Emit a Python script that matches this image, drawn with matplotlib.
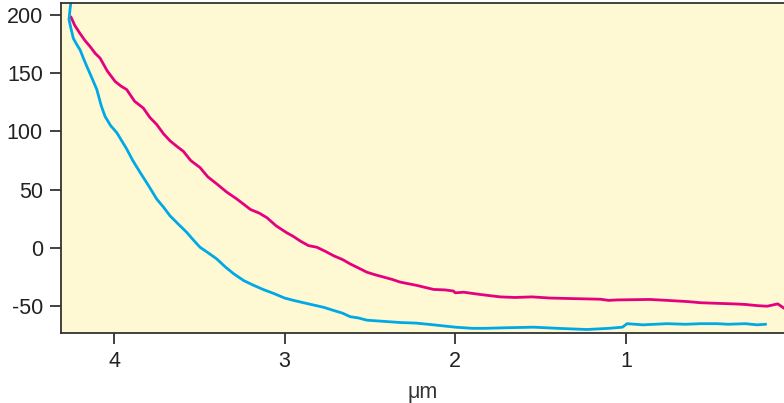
import matplotlib.pyplot as plt

plt.rcParams['font.family'] = ['Liberation Sans', 'DejaVu Sans']
plt.rcParams['axes.unicode_minus'] = False

# magenta trace (distance in um, signal)
mag_x = [4.252, 4.230, 4.199, 4.170, 4.141, 4.110, 4.082, 4.040, 3.994, 3.960,
         3.926, 3.880, 3.828, 3.790, 3.750, 3.710, 3.672, 3.630, 3.594, 3.550,
         3.496, 3.450, 3.398, 3.340, 3.280, 3.200, 3.150, 3.104, 3.050, 2.987,
         2.950, 2.909, 2.860, 2.811, 2.760, 2.714, 2.660, 2.616, 2.570, 2.518,
         2.470, 2.420, 2.370, 2.323, 2.230, 2.127, 2.060, 2.010, 2.000, 1.950,
         1.850, 1.736, 1.650, 1.550, 1.443, 1.300, 1.150, 1.100, 1.050, 0.954,
         0.860, 0.758, 0.700, 0.640, 0.563, 0.470, 0.367, 0.300, 0.230, 0.172,
         0.140, 0.110, 0.090, 0.075]
mag_y = [198, 191, 184, 178, 173, 167, 163, 152, 143, 139,
         136, 126, 120, 112, 106, 98, 92, 87, 83, 75,
         69, 61, 55, 48, 42, 33, 30, 26, 19, 13,
         10, 6, 2, 0.6, -3, -6.6, -10, -13.7, -17, -20.8,
         -23, -25, -27, -29.3, -32, -35.6, -36, -37, -38.5, -38,
         -40, -42, -42.5, -42, -43, -43.5, -44, -45, -44.6, -44.4,
         -44.2, -45, -45.5, -46, -47, -47.5, -48, -48.5, -49.5, -50,
         -49, -48, -50, -51.5]

# cyan trace
cyan_x = [4.252, 4.258, 4.264, 4.255, 4.239, 4.220, 4.199, 4.180, 4.160, 4.130,
          4.101, 4.075, 4.053, 4.020, 3.984, 3.955, 3.926, 3.890, 3.848, 3.800,
          3.750, 3.710, 3.672, 3.620, 3.574, 3.530, 3.496, 3.450, 3.398, 3.350,
          3.300, 3.240, 3.183, 3.120, 3.065, 3.000, 2.948, 2.890, 2.830, 2.770,
          2.714, 2.660, 2.616, 2.570, 2.518, 2.420, 2.323, 2.230, 2.127, 2.000,
          1.900, 1.833, 1.700, 1.540, 1.400, 1.228, 1.100, 1.020, 0.993, 0.900,
          0.758, 0.650, 0.560, 0.465, 0.400, 0.300, 0.230, 0.182]
cyan_y = [212, 205, 196, 190, 180, 175, 170, 163, 156, 146,
          136, 122, 113, 105, 99, 92, 85, 75, 65, 54,
          42, 35, 27.6, 20, 13.4, 6, 0.6, -4, -9.4, -16,
          -22, -28, -32, -36, -39, -43, -45, -47, -49, -51,
          -53.6, -56, -59, -60, -62, -63, -64, -64.5, -66, -68,
          -69, -69, -68.5, -68, -69, -70, -69, -68, -65, -66,
          -65, -65.5, -65, -65, -65.5, -65, -66, -65.5]

x_ticks = [4, 3, 2, 1]
y_ticks = [-50, 0, 50, 100, 150, 200]

fig = plt.figure(figsize=(7.84, 4.03), dpi=100)
ax = fig.add_axes([61 / 784, 1 - 333 / 403, 1 - 61 / 784, 330 / 403])
ax.set_facecolor('#FEF8D3')

ax.plot(mag_x, mag_y, color='#E5007D', lw=2.0)
ax.plot(cyan_x, cyan_y, color='#00A9E6', lw=2.0)

ax.set_xlim(4.311, 0.073)
ax.set_ylim(-73, 210.3)
ax.set_xticks(x_ticks)
ax.set_yticks(y_ticks)

for s in ['left', 'bottom', 'top']:
    ax.spines[s].set_color('#333333')
    ax.spines[s].set_linewidth(1.3)
ax.spines['right'].set_visible(False)
ax.tick_params(length=8, width=1.3, color='#333333', labelsize=15.5,
               labelcolor='#222222', pad=5)
ax.set_xlabel('μm', fontsize=15.5, color='#333333', labelpad=7)

fig.savefig('out.png', dpi=100)
